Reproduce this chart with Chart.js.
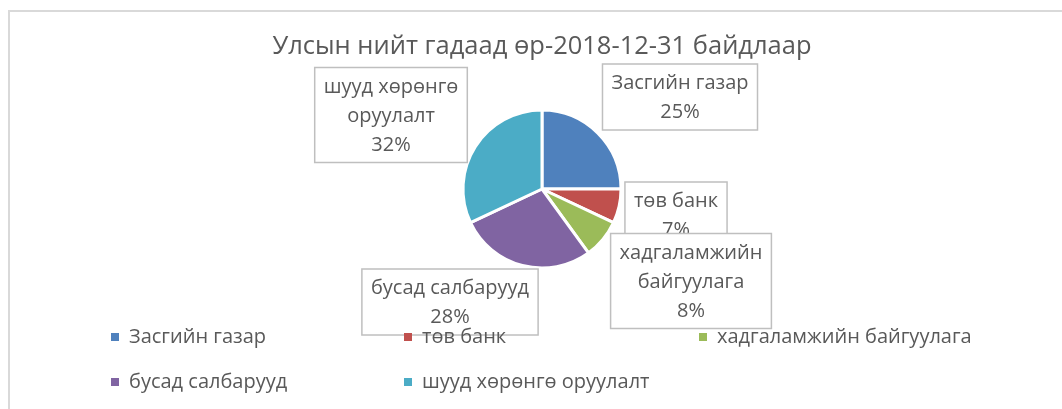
<!DOCTYPE html>
<html>
<head>
<meta charset="utf-8">
<script src="https://cdn.jsdelivr.net/npm/chart.js@4.4.0/dist/chart.umd.min.js"></script>
<style>
  html, body { margin: 0; padding: 0; background: #fff; }
  #wrap { width: 1062px; height: 409px; position: relative; }
</style>
</head>
<body>
<div id="wrap"><canvas id="pieChart"></canvas></div>
<script>
const chartTitle = 'Улсын нийт гадаад өр-2018-12-31 байдлаар';
const categories = ['Засгийн газар', 'төв банк', 'хадгаламжийн байгуулага', 'бусад салбарууд', 'шууд хөрөнгө оруулалт'];
const shares = [25, 7, 8, 28, 32];
const sliceColors = ['#4f81bd', '#c0504d', '#9bbb59', '#8064a2', '#4bacc6'];
// how each category name wraps inside its data label box
const labelLines = [['Засгийн газар'], ['төв банк'], ['хадгаламжийн', 'байгуулага'], ['бусад салбарууд'], ['шууд хөрөнгө', 'оруулалт']];

// label box centres, relative to the pie centre (layout only)
const boxOffsets = [[138, -92], [134, 26], [149, 92], [-92, 113], [-151, -74]];
const legendCols = [115, 408, 703];
const legendRows = [337, 382];

const textColor = '#595959';
const fontFamily = '"Open Sans", "Noto Sans", sans-serif';

const excelLook = {
  id: 'excelLook',
  beforeDraw(chart) {
    const ctx = chart.ctx;
    ctx.save();
    ctx.strokeStyle = '#d9d9d9';
    ctx.lineWidth = 2;
    ctx.strokeRect(9, 11, 1200, 600);
    ctx.restore();
  },
  afterDraw(chart) {
    const ctx = chart.ctx;
    const arcs = chart.getDatasetMeta(0).data;
    const cx = arcs[0].x;
    const cy = arcs[0].y;

    ctx.save();
    ctx.fillStyle = textColor;
    ctx.textAlign = 'center';
    ctx.textBaseline = 'middle';
    ctx.font = `25.5px ${fontFamily}`;
    ctx.fillText(chartTitle, cx, 47);

    // data labels with boxes
    ctx.font = `20px ${fontFamily}`;
    const lineH = 29;
    arcs.forEach((arc, i) => {
      const lines = [...labelLines[i], `${shares[i]}%`];
      const w = Math.max(...lines.map(l => ctx.measureText(l).width)) + 18;
      const h = lines.length * lineH + 8;
      const bx = cx + boxOffsets[i][0];
      const by = cy + boxOffsets[i][1];
      ctx.fillStyle = '#fff';
      ctx.fillRect(bx - w / 2, by - h / 2, w, h);
      ctx.strokeStyle = '#bfbfbf';
      ctx.lineWidth = 1.5;
      ctx.strokeRect(bx - w / 2, by - h / 2, w, h);
      ctx.fillStyle = textColor;
      lines.forEach((l, j) => {
        ctx.fillText(l, bx, by - h / 2 + 5 + lineH * (j + 0.5));
      });
    });

    // legend in a grid like the original
    ctx.textAlign = 'left';
    categories.forEach((name, i) => {
      const x = legendCols[i % 3];
      const y = legendRows[Math.floor(i / 3)];
      ctx.fillStyle = sliceColors[i];
      ctx.fillRect(x - 4, y - 4, 8, 8);
      ctx.fillStyle = textColor;
      ctx.fillText(name, x + 14, y);
    });
    ctx.restore();
  }
};

const ctxPie = document.getElementById('pieChart').getContext('2d');
const pieChart = new Chart(ctxPie, {
  type: 'pie',
  data: {
    labels: categories,
    datasets: [{
      data: shares,
      backgroundColor: sliceColors,
      borderColor: '#fff',
      borderWidth: 3,
      hoverOffset: 0
    }]
  },
  options: {
    responsive: true,
    maintainAspectRatio: false,
    animation: false,
    radius: 79,
    layout: { padding: { left: 22, right: 0, top: 111, bottom: 142 } },
    plugins: {
      legend: { display: false },
      title: { display: false },
      tooltip: { enabled: false }
    }
  },
  plugins: [excelLook]
});
</script>
</body>
</html>
